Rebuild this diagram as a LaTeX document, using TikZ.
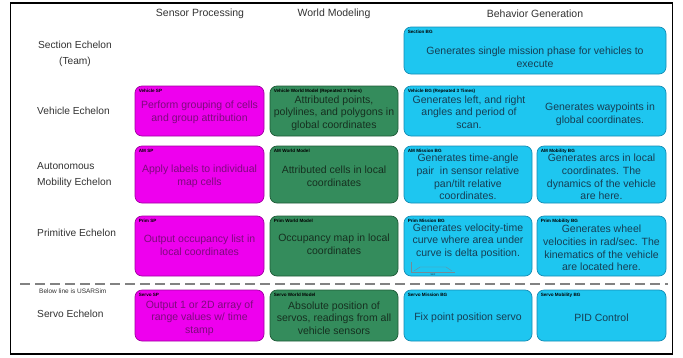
\documentclass[tikz,border=0pt]{standalone}
\usepackage{fontspec}
\setmainfont{Liberation Sans}
\definecolor{spfill}{RGB}{238,0,238}
\definecolor{spline}{RGB}{160,0,160}
\definecolor{sptxt}{RGB}{125,10,125}
\definecolor{wmfill}{RGB}{52,140,92}
\definecolor{wmline}{RGB}{30,90,55}
\definecolor{wmtxt}{RGB}{22,48,32}
\definecolor{bgfill}{RGB}{30,198,240}
\definecolor{bgline}{RGB}{20,140,180}
\definecolor{bgtxt}{RGB}{22,62,84}
\definecolor{hdrcol}{RGB}{50,50,50}
\definecolor{dashcol}{RGB}{130,130,130}
\begin{document}
\begin{tikzpicture}[x=1pt,y=-1pt]
\tikzset{
  boxbase/.style={rounded corners=7pt, line width=0.7pt, inner sep=0pt},
  spbox/.style={boxbase, draw=spline, fill=spfill},
  wmbox/.style={boxbase, draw=wmline, fill=wmfill},
  bgbox/.style={boxbase, draw=bgline, fill=bgfill},
  boxtitle/.style={font=\fontsize{4.6}{5}\selectfont\bfseries, text=black, inner sep=0pt, anchor=north west},
  bodytext/.style={font=\fontsize{10.5}{12.6}\selectfont, align=center, inner sep=0pt},
  sptext/.style={bodytext, text=sptxt},
  wmtext/.style={bodytext, text=wmtxt},
  bgtext/.style={bodytext, text=bgtxt},
  hdr/.style={font=\fontsize{10.5}{12}\selectfont, text=hdrcol, inner sep=0pt},
  rowlabel/.style={font=\fontsize{10.2}{16}\selectfont, text=hdrcol, inner sep=0pt, align=left, anchor=west},
}
\useasboundingbox (0,0) rectangle (683,357);
% frame
\node[draw=black, line width=1.8pt, minimum width=662pt, minimum height=351pt, inner sep=0pt] (frame) at (341.5,178.5) {};

% headers
\node[hdr] (hsp) at (200,14) {Sensor Processing};
\node[hdr] (hwm) at (334,14) {World Modeling};
\node[hdr] (hbg) at (535,14) {Behavior Generation};

% row labels
\node[hdr, align=center, font=\fontsize{10.2}{16}\selectfont] (lsec) at (75,54) {Section Echelon\\(Team)};
\node[rowlabel] (lveh) at (37,111) {Vehicle Echelon};
\node[rowlabel] (lam) at (37,175) {Autonomous\\Mobility Echelon};
\node[rowlabel] (lprim) at (37,233) {Primitive Echelon};
\node[rowlabel] (lservo) at (37,314) {Servo Echelon};
\node[font=\fontsize{6.5}{7}\selectfont, text=hdrcol, inner sep=0pt, anchor=west] (lusar) at (39,291) {Below line is USARSim};

% dashed separator
\coordinate (dl) at (20,284);
\coordinate (dr) at (668,284);
\draw[dashcol, line width=2.2pt, dash pattern=on 10pt off 5pt] (dl) -- (dr);

% Section row
\node[bgbox, minimum width=262pt, minimum height=47pt] (secbg) at (535,50.5) {};
\node[boxtitle] (secbgt) at ([xshift=4pt,yshift=-3pt]secbg.north west) {Section BG};
\node[bgtext] (secbgx) at (535,57) {Generates single mission phase for vehicles to\\execute};

% Vehicle row
\node[spbox, minimum width=129pt, minimum height=50pt] (vsp) at (199.5,111) {};
\node[boxtitle] (vspt) at ([xshift=4pt,yshift=-3pt]vsp.north west) {Vehicle SP};
\node[sptext] (vspx) at (199.5,112) {Perform grouping of cells\\and group attribution};

\node[wmbox, minimum width=128pt, minimum height=50pt] (vwm) at (334,111) {};
\node[boxtitle] (vwmt) at ([xshift=4pt,yshift=-3pt]vwm.north west) {Vehicle World Model (Repeated 3 Times)};
\node[wmtext] (vwmx) at (334,113) {Attributed points,\\polylines, and polygons in\\global coordinates};

\node[bgbox, minimum width=262pt, minimum height=50pt] (vbg) at (535,111) {};
\node[boxtitle] (vbgt) at ([xshift=4pt,yshift=-3pt]vbg.north west) {Vehicle BG (Repeated 3 Times)};
\node[bgtext] (vbgx1) at (469,112) {Generates left, and right\\angles and period of\\scan.};
\node[bgtext] (vbgx2) at (600,114) {Generates waypoints in\\global coordinates.};

% AM row
\node[spbox, minimum width=129pt, minimum height=57pt] (asp) at (199.5,174.5) {};
\node[boxtitle] (aspt) at ([xshift=4pt,yshift=-3pt]asp.north west) {AM SP};
\node[sptext] (aspx) at (199.5,176) {Apply labels to individual\\map cells};

\node[wmbox, minimum width=128pt, minimum height=57pt] (awm) at (334,174.5) {};
\node[boxtitle] (awmt) at ([xshift=4pt,yshift=-3pt]awm.north west) {AM World Model};
\node[wmtext] (awmx) at (334,176) {Attributed cells in local\\coordinates};

\node[bgbox, minimum width=128pt, minimum height=57pt] (amis) at (468,174.5) {};
\node[boxtitle] (amist) at ([xshift=4pt,yshift=-3pt]amis.north west) {AM Mission BG};
\node[bgtext] (amisx) at (468,177) {Generates time-angle\\pair\ \ in sensor relative\\pan/tilt relative\\coordinates.};

\node[bgbox, minimum width=129pt, minimum height=57pt] (amob) at (601.5,174.5) {};
\node[boxtitle] (amobt) at ([xshift=4pt,yshift=-3pt]amob.north west) {AM Mobility BG};
\node[bgtext] (amobx) at (601.5,177) {Generates arcs in local\\coordinates. The\\dynamics of the vehicle\\are here.};

% Primitive row
\node[spbox, minimum width=129pt, minimum height=60pt] (psp) at (199.5,246) {};
\node[boxtitle] (pspt) at ([xshift=4pt,yshift=-3pt]psp.north west) {Prim SP};
\node[sptext] (pspx) at (199.5,245) {Output occupancy list in\\local coordinates};

\node[wmbox, minimum width=128pt, minimum height=60pt] (pwm) at (334,246) {};
\node[boxtitle] (pwmt) at ([xshift=4pt,yshift=-3pt]pwm.north west) {Prim World Model};
\node[wmtext] (pwmx) at (334,244) {Occupancy map in local\\coordinates};

\node[bgbox, minimum width=128pt, minimum height=60pt] (pmis) at (468,246) {};
\node[boxtitle] (pmist) at ([xshift=4pt,yshift=-3pt]pmis.north west) {Prim Mission BG};
\node[bgtext] (pmisx) at (468,241) {Generates velocity-time\\curve where area under\\curve is delta position.};
% tiny velocity-time sketch
\coordinate (ga) at (411,262);
\coordinate (gb) at (411,272);
\coordinate (gc) at (455,272);
\draw[bgtxt!60, line width=0.4pt] (ga) -- (gb) -- (gc);
\draw[bgtxt!60, line width=0.4pt] (414,271) -- (420,267) -- (446,267) -- (452,271);
\node[font=\fontsize{3}{3}\selectfont, text=bgtxt, inner sep=0pt] (glab) at (433,275) {sec};

\node[bgbox, minimum width=129pt, minimum height=60pt] (pmob) at (601.5,246) {};
\node[boxtitle] (pmobt) at ([xshift=4pt,yshift=-3pt]pmob.north west) {Prim Mobility BG};
\node[bgtext] (pmobx) at (601.5,248) {Generates wheel\\velocities in rad/sec. The\\kinematics of the vehicle\\are located here.};

% Servo row
\node[spbox, minimum width=129pt, minimum height=51pt] (ssp) at (199.5,315.5) {};
\node[boxtitle] (sspt) at ([xshift=4pt,yshift=-3pt]ssp.north west) {Servo SP};
\node[sptext] (sspx) at (199.5,318) {Output 1 or 2D array of\\range values w/ time\\stamp};

\node[wmbox, minimum width=128pt, minimum height=51pt] (swm) at (334,315.5) {};
\node[boxtitle] (swmt) at ([xshift=4pt,yshift=-3pt]swm.north west) {Servo World Model};
\node[wmtext] (swmx) at (334,318) {Absolute position of\\servos, readings from all\\vehicle sensors};

\node[bgbox, minimum width=128pt, minimum height=51pt] (smis) at (468,315.5) {};
\node[boxtitle] (smist) at ([xshift=4pt,yshift=-3pt]smis.north west) {Servo Mission BG};
\node[bgtext] (smisx) at (468,318) {Fix point position servo};

\node[bgbox, minimum width=129pt, minimum height=51pt] (smob) at (601.5,315.5) {};
\node[boxtitle] (smobt) at ([xshift=4pt,yshift=-3pt]smob.north west) {Servo Mobility BG};
\node[bgtext] (smobx) at (601.5,318) {PID Control};
\end{tikzpicture}
\end{document}
